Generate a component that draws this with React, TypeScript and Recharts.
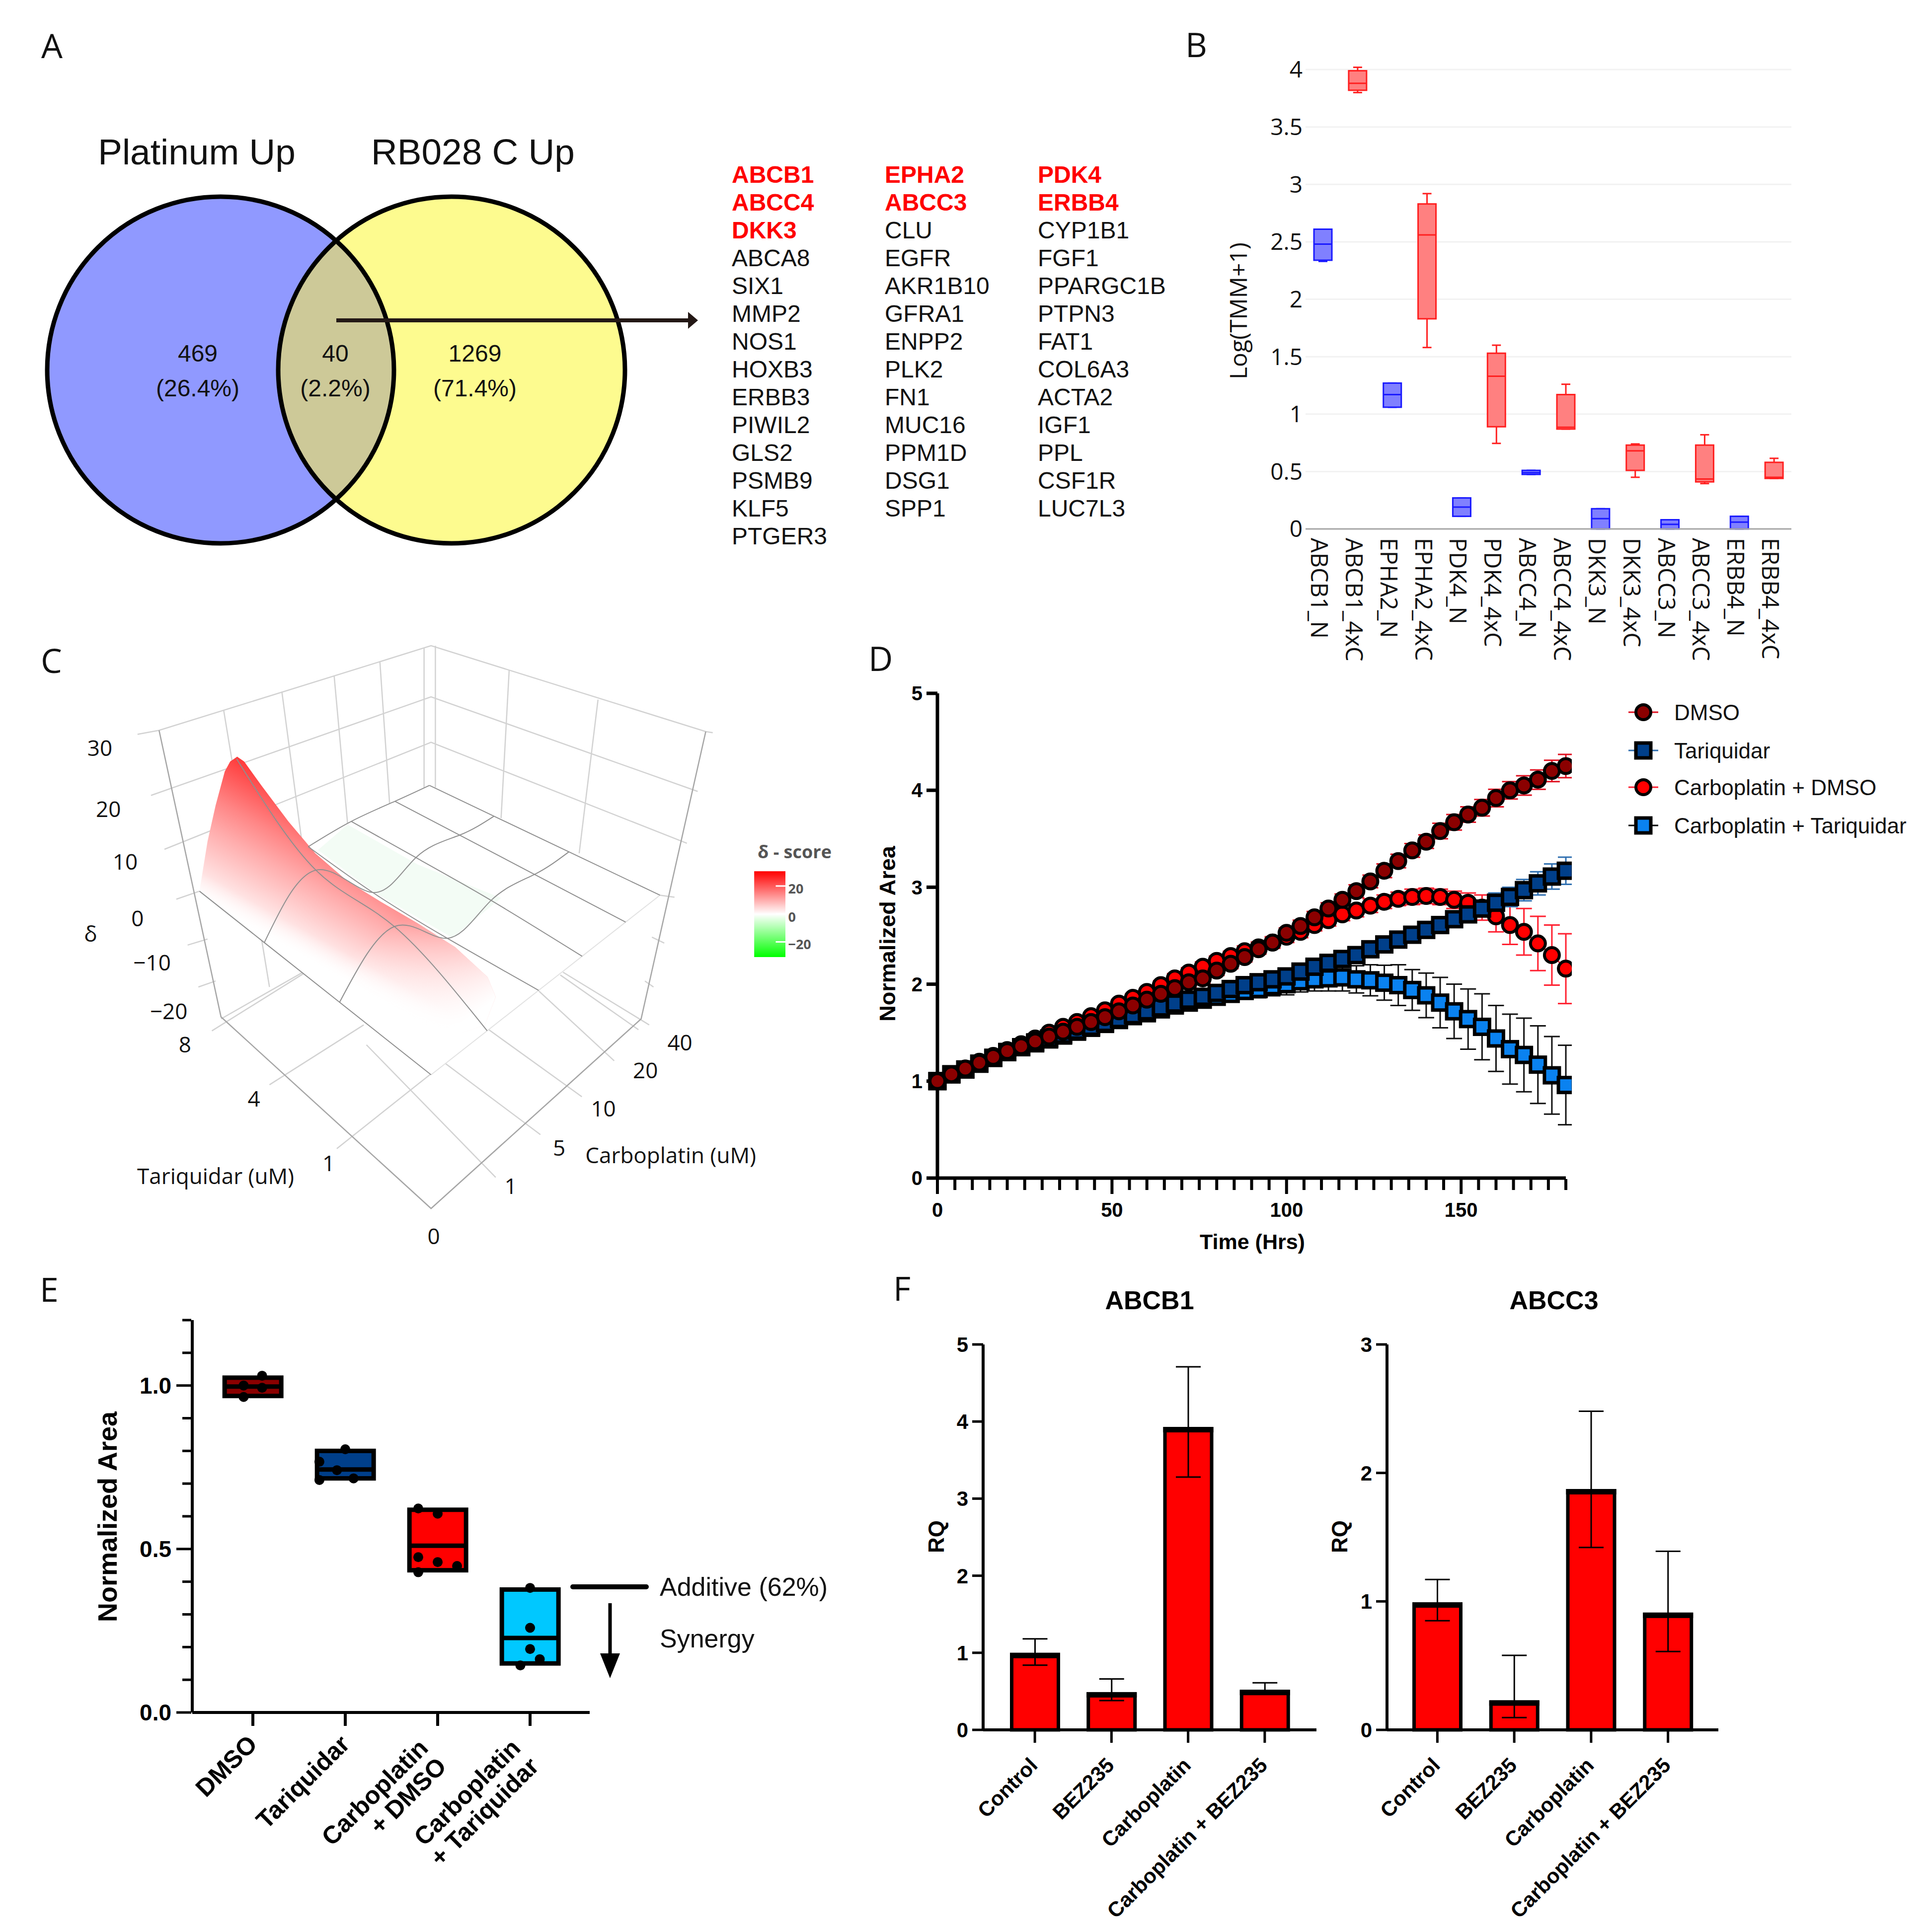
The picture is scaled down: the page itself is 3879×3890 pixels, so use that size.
import {
  Bar,
  CartesianGrid,
  ComposedChart,
  ErrorBar,
  Line,
  Scatter,
  ScatterChart,
  XAxis,
  YAxis,
} from "recharts";

const SANS = "'Liberation Sans', Arial, sans-serif";
const MYRIAD = "'Open Sans', sans-serif";

// Panel A
const geneColumnOne = ["ABCB1", "ABCC4", "DKK3", "ABCA8", "SIX1", "MMP2", "NOS1", "HOXB3", "ERBB3", "PIWIL2", "GLS2", "PSMB9", "KLF5", "PTGER3"];
const geneColumnTwo = ["EPHA2", "ABCC3", "CLU", "EGFR", "AKR1B10", "GFRA1", "ENPP2", "PLK2", "FN1", "MUC16", "PPM1D", "DSG1", "SPP1"];
const geneColumnThree = ["PDK4", "ERBB4", "CYP1B1", "FGF1", "PPARGC1B", "PTPN3", "FAT1", "COL6A3", "ACTA2", "IGF1", "PPL", "CSF1R", "LUC7L3"];
const highlightedGenes = ["ABCB1", "ABCC4", "DKK3", "EPHA2", "ABCC3", "PDK4", "ERBB4"];
const vennCounts = ["469", "40", "1269"];
const vennShares = ["(26.4%)", "(2.2%)", "(71.4%)"];
const vennLeftCenter = [{ x: 444, y: 745 }];
const vennRightCenter = [{ x: 909, y: 745 }];
const vennLensCenter = [{ x: 676.5, y: 745 }];

// Panel B
const tmmLabels = ["ABCB1_N", "ABCB1_4xC", "EPHA2_N", "EPHA2_4xC", "PDK4_N", "PDK4_4xC", "ABCC4_N", "ABCC4_4xC", "DKK3_N", "DKK3_4xC", "ABCC3_N", "ABCC3_4xC", "ERBB4_N", "ERBB4_4xC"];
const tmmMin = [2.33, 3.8, 1.06, 1.58, 0.11, 0.745, 0.475, 0.87, 0, 0.45, 0, 0.395, 0, 0.44];
const tmmQ1 = [2.34, 3.82, 1.06, 1.83, 0.11, 0.89, 0.475, 0.87, 0, 0.51, 0, 0.41, 0, 0.44];
const tmmMedian = [2.48, 3.88, 1.17, 2.56, 0.19, 1.33, 0.49, 0.885, 0.09, 0.68, 0.04, 0.435, 0.06, 0.45];
const tmmQ3 = [2.61, 3.99, 1.27, 2.83, 0.27, 1.53, 0.51, 1.17, 0.176, 0.73, 0.08, 0.73, 0.11, 0.58];
const tmmMax = [2.61, 4.02, 1.27, 2.92, 0.27, 1.6, 0.51, 1.26, 0.176, 0.74, 0.08, 0.82, 0.11, 0.615];
const tmmTicks = [0, 0.5, 1, 1.5, 2, 2.5, 3, 3.5, 4];

// Panel C: delta surface, rows are Tariquidar, columns are Carboplatin
const tariquidarDoses = [0, 1, 4, 8];
const carboplatinDoses = [0, 1, 5, 10, 20, 40];
const tariquidarFractions = [0, 0.395, 0.72, 1];
const carboplatinFractions = [0, 0.245, 0.47, 0.66, 0.85, 1];
const deltaRows = [
  [0, 0, 0, 0, 0, 0],
  [0, 7.5, -1.3, 0.5, 0, 0],
  [0, 8, -1.8, 0.3, 0, 0],
  [0, 20.5, -1, 0, 0, 0],
];
// outlines and cage of the 3D view, in the units of the view plane
const surfaceOutline = [[315, 665], [330, 540], [345, 450], [362, 365], [372, 340], [385, 328], [398, 340], [430, 400], [480, 490], [530, 570], [590, 640], [650, 690], [720, 745], [790, 805], [850, 880], [865, 930], [845, 1000], [760, 1040], [745, 1125], [575, 945], [435, 800], [315, 665]];
const valleyOutline = [[535, 562], [590, 498], [720, 598], [875, 682], [785, 782], [640, 668], [535, 562]];
const basePlane = [[315, 665], [742, 400], [1170, 675], [745, 1125], [315, 665]];
const wallLines = [
  [[200, 272], [240, 262], [745, 50], [1255, 265], [1268, 268]],
  [[225, 425], [745, 178], [1240, 415]],
  [[250, 560], [745, 292], [1220, 545]],
  [[272, 685], [315, 665]],
  [[1197, 680], [1170, 675]],
  [[293, 800], [330, 785]],
  [[313, 905], [345, 890]],
  [[1178, 795], [1155, 780]],
  [[1158, 905], [1142, 890]],
  [[360, 212], [445, 905]],
  [[468, 165], [505, 540]],
  [[565, 125], [590, 495]],
  [[650, 90], [668, 445]],
  [[890, 112], [875, 482]],
  [[1055, 185], [1020, 570]],
  [[732, 55], [732, 405]],
  [[753, 50], [753, 405]],
];
const floorLines = [
  [[338, 1015], [510, 870]],
  [[355, 985], [515, 862]],
  [[445, 1150], [620, 1000]],
  [[570, 1310], [850, 1010]],
  [[865, 1382], [625, 1050]],
  [[948, 1275], [770, 1095]],
  [[1025, 1180], [850, 1010]],
  [[1085, 1090], [945, 915]],
  [[1130, 1012], [985, 875]],
  [[1150, 1000], [990, 868]],
];
const cageAxes = [
  [[240, 262], [355, 980], [745, 1460], [1135, 985], [1255, 265]],
];

// Panel D
const hours = [
  0, 4, 8, 12, 16, 20, 24, 28, 32, 36,
  40, 44, 48, 52, 56, 60, 64, 68, 72, 76,
  80, 84, 88, 92, 96, 100, 104, 108, 112, 116,
  120, 124, 128, 132, 136, 140, 144, 148, 152, 156,
  160, 164, 168, 172, 176, 180,
];
const dmsoArea = [
  1.0, 1.07, 1.13, 1.19, 1.25, 1.31, 1.36, 1.41, 1.46, 1.51,
  1.56, 1.61, 1.66, 1.72, 1.78, 1.84, 1.9, 1.96, 2.02, 2.06,
  2.14, 2.21, 2.28, 2.36, 2.43, 2.53, 2.6, 2.69, 2.78, 2.87,
  2.96, 3.06, 3.17, 3.27, 3.38, 3.47, 3.58, 3.67, 3.75, 3.82,
  3.92, 4.0, 4.05, 4.11, 4.2, 4.25,
];
const dmsoErr = [
  0, 0.01, 0.01, 0.015, 0.02, 0.02, 0.02, 0.025, 0.03, 0.03,
  0.03, 0.03, 0.035, 0.04, 0.04, 0.04, 0.04, 0.045, 0.05, 0.05,
  0.05, 0.05, 0.05, 0.05, 0.05, 0.05, 0.06, 0.06, 0.06, 0.06,
  0.065, 0.065, 0.07, 0.07, 0.07, 0.07, 0.08, 0.08, 0.08, 0.085,
  0.09, 0.09, 0.1, 0.1, 0.11, 0.12,
];
const tariquidarArea = [
  1.0, 1.07, 1.12, 1.18, 1.24, 1.3, 1.35, 1.4, 1.44, 1.48,
  1.52, 1.56, 1.6, 1.64, 1.68, 1.72, 1.76, 1.8, 1.84, 1.87,
  1.91, 1.95, 1.99, 2.02, 2.05, 2.08, 2.13, 2.18, 2.22, 2.26,
  2.3, 2.36, 2.41, 2.46, 2.51, 2.56, 2.61, 2.67, 2.72, 2.78,
  2.84, 2.9, 2.97, 3.04, 3.11, 3.17,
];
const tariquidarErr = [
  0, 0.01, 0.01, 0.015, 0.02, 0.02, 0.02, 0.02, 0.025, 0.025,
  0.03, 0.03, 0.03, 0.03, 0.03, 0.03, 0.03, 0.03, 0.03, 0.03,
  0.03, 0.03, 0.03, 0.03, 0.03, 0.03, 0.03, 0.035, 0.035, 0.035,
  0.04, 0.04, 0.04, 0.04, 0.04, 0.04, 0.05, 0.05, 0.07, 0.08,
  0.1, 0.1, 0.11, 0.12, 0.13, 0.14,
];
const carboDmsoArea = [
  1.0, 1.07, 1.13, 1.2, 1.26, 1.32, 1.38, 1.44, 1.5, 1.56,
  1.61, 1.67, 1.73, 1.8, 1.86, 1.92, 1.99, 2.06, 2.12, 2.18,
  2.24, 2.29, 2.34, 2.38, 2.43, 2.49, 2.54, 2.61, 2.66, 2.72,
  2.76, 2.81, 2.85, 2.88, 2.9, 2.91, 2.9, 2.87, 2.84, 2.79,
  2.7, 2.61, 2.54, 2.42, 2.3, 2.16,
];
const carboDmsoErr = [
  0, 0.01, 0.01, 0.015, 0.02, 0.02, 0.02, 0.025, 0.03, 0.03,
  0.03, 0.03, 0.035, 0.04, 0.04, 0.04, 0.045, 0.05, 0.05, 0.05,
  0.05, 0.05, 0.055, 0.055, 0.06, 0.06, 0.06, 0.06, 0.06, 0.065,
  0.065, 0.07, 0.07, 0.07, 0.08, 0.08, 0.08, 0.09, 0.1, 0.13,
  0.16, 0.2, 0.24, 0.28, 0.31, 0.36,
];
const carboTariArea = [
  1.0, 1.07, 1.12, 1.18, 1.24, 1.3, 1.35, 1.39, 1.43, 1.47,
  1.51, 1.55, 1.59, 1.63, 1.67, 1.7, 1.74, 1.78, 1.81, 1.84,
  1.87, 1.9, 1.93, 1.95, 1.98, 2.0, 2.03, 2.05, 2.06, 2.07,
  2.05, 2.04, 2.015, 1.99, 1.94, 1.885, 1.81, 1.72, 1.64, 1.56,
  1.44, 1.33, 1.27, 1.17, 1.06, 0.96,
];
const carboTariErr = [
  0, 0.01, 0.01, 0.015, 0.02, 0.02, 0.02, 0.02, 0.025, 0.025,
  0.03, 0.03, 0.03, 0.03, 0.03, 0.035, 0.035, 0.04, 0.04, 0.04,
  0.05, 0.06, 0.08, 0.09, 0.1, 0.11, 0.11, 0.12, 0.13, 0.14,
  0.14, 0.16, 0.18, 0.21, 0.21, 0.23, 0.26, 0.28, 0.31, 0.34,
  0.34, 0.36, 0.38, 0.4, 0.4, 0.41,
];
const hourTicks = [
  0, 5, 10, 15, 20, 25, 30, 35, 40, 45, 50, 55, 60, 65, 70, 75, 80, 85, 90,
  95, 100, 105, 110, 115, 120, 125, 130, 135, 140, 145, 150, 155, 160, 165,
  170, 175, 180,
];

// Panel E
const endpointPositions = [1, 2, 3, 4];
const endpointTop = [1.024, 0.8, 0.62, 0.376];
const endpointMedian = [0.997, 0.743, 0.51, 0.228];
const endpointBottom = [0.968, 0.716, 0.435, 0.15];
const endpointDotX = [0.9, 1.1, 1.1, 0.9, 2, 1.72, 1.91, 1.72, 2.09, 2.79, 3, 2.79, 3, 3.21, 2.79, 4, 4, 4, 4.105, 3.895];
const endpointDotY = [0.965, 1.03, 0.993, 1.0, 0.805, 0.767, 0.741, 0.711, 0.716, 0.624, 0.608, 0.475, 0.46, 0.448, 0.429, 0.381, 0.259, 0.194, 0.163, 0.144];
const endpointTicks = [0, 0.1, 0.2, 0.3, 0.4, 0.5, 0.6, 0.7, 0.8, 0.9, 1, 1.1, 1.2];

// Panel F
const rqLabels = ["Control", "BEZ235", "Carboplatin", "Carboplatin + BEZ235"];
const abcb1Rq = [1.0, 0.49, 3.93, 0.52];
const abcb1Low = [0.84, 0.38, 3.28, 0.46];
const abcb1High = [1.18, 0.66, 4.71, 0.61];
const abcc3Rq = [0.993, 0.23, 1.875, 0.913];
const abcc3Low = [0.85, 0.096, 1.42, 0.61];
const abcc3High = [1.17, 0.58, 2.48, 1.39];

const tmmRows = tmmLabels.map((name, i) => ({
  name,
  range: [tmmMin[i], tmmMax[i]],
  min: tmmMin[i],
  q1: tmmQ1[i],
  median: tmmMedian[i],
  q3: tmmQ3[i],
  max: tmmMax[i],
  isNormal: name.endsWith("_N"),
}));

const growthRows = hours.map((hour, i) => ({
  hour,
  dmso: dmsoArea[i],
  dmsoErr: dmsoErr[i],
  tariquidar: tariquidarArea[i],
  tariquidarErr: tariquidarErr[i],
  carboDmso: carboDmsoArea[i],
  carboDmsoErr: carboDmsoErr[i],
  carboTari: carboTariArea[i],
  carboTariErr: carboTariErr[i],
}));

const endpointColors = ["#8b0000", "#003f8a", "#ff0000", "#00c8ff"];
const endpointLabelLines = [["DMSO"], ["Tariquidar"], ["Carboplatin", "+ DMSO"], ["Carboplatin", "+ Tariquidar"]];
const endpointRows = endpointPositions.map((x, i) => ({
  x,
  range: [endpointBottom[i], endpointTop[i]],
  top: endpointTop[i],
  median: endpointMedian[i],
  bottom: endpointBottom[i],
  color: endpointColors[i],
}));
const endpointDots = endpointDotX.map((x, i) => ({ x, y: endpointDotY[i] }));

const rqRows = (values: number[], low: number[], high: number[]) =>
  rqLabels.map((name, i) => ({
    name,
    value: values[i],
    err: [values[i] - low[i], high[i] - values[i]],
  }));

// projects one surface node on the view plane
const projectNode = (u: number, v: number, delta: number) => {
  const x = (1 - u) * (1 - v) * 745 + u * (1 - v) * 315 + (1 - u) * v * 1170 + u * v * 742;
  const y = (1 - u) * (1 - v) * 1125 + u * (1 - v) * 665 + (1 - u) * v * 675 + u * v * 400;
  const lift = delta * 13;
  return { x: x + ((x - 745) / 390) * 0.16 * lift, y: y - lift };
};
const toPoints = (pairs: number[][]) => pairs.map(([x, y]) => ({ x, y }));
const tariquidarMesh = tariquidarDoses.map((_, t) =>
  carboplatinDoses
    .map((__, c) => projectNode(tariquidarFractions[t], carboplatinFractions[c], deltaRows[t][c]))
    // the far edge only shows behind the peak
    .slice(t === tariquidarDoses.length - 1 ? 2 : 0),
);
const carboplatinMesh = carboplatinDoses.map((_, c) =>
  tariquidarDoses.map((__, t) => projectNode(tariquidarFractions[t], carboplatinFractions[c], deltaRows[t][c])),
);

const NoMark = () => <g />;

function WhiskerBox({ x, y, width, height, payload }: any) {
  const perUnit = height / (payload.max - payload.min);
  const py = (v: number) => y + (payload.max - v) * perUnit;
  const stroke = payload.isNormal ? "#1a1aff" : "#ff2020";
  const fill = payload.isNormal ? "#8080ff" : "#ff8080";
  const cx = x + width / 2;
  return (
    <g stroke={stroke} strokeWidth={3}>
      <line x1={cx} x2={cx} y1={py(payload.max)} y2={py(payload.min)} />
      <line x1={cx - 9} x2={cx + 9} y1={py(payload.max)} y2={py(payload.max)} />
      <line x1={cx - 9} x2={cx + 9} y1={py(payload.min)} y2={py(payload.min)} />
      <rect x={x} y={py(payload.q3)} width={width} height={Math.max(py(payload.q1) - py(payload.q3), 3)} fill={fill} />
      <line x1={x} x2={x + width} y1={py(payload.median)} y2={py(payload.median)} />
    </g>
  );
}

function EndpointBox({ x, y, width, height, payload }: any) {
  const perUnit = height / (payload.top - payload.bottom);
  const my = y + (payload.top - payload.median) * perUnit;
  const cx = x + width / 2;
  return (
    <g stroke="#000" strokeWidth={9}>
      <rect x={cx - 57} y={y} width={114} height={height} fill={payload.color} />
      <line x1={cx - 60} x2={cx + 60} y1={my} y2={my} />
    </g>
  );
}

// the border sits inside the bar, with a heavier top edge
function RqBar({ x, y, width, height }: any) {
  return (
    <g>
      <rect x={x + 3.5} y={y + 3.5} width={width - 7} height={height - 3.5} fill="#ff0000" stroke="#000" strokeWidth={7} />
      <rect x={x} y={y} width={width} height={11} fill="#000" />
    </g>
  );
}

function TmmTick({ x, y, payload }: any) {
  return (
    <text transform={`translate(${x - 24},${y + 10}) rotate(90)`} fontFamily={MYRIAD} fontSize={47} fill="#111">
      {payload.value}
    </text>
  );
}

function HourTick({ x, y, payload }: any) {
  const major = payload.value % 50 === 0;
  return (
    <g>
      <line x1={x} x2={x} y1={y} y2={y + (major ? 30 : 22)} stroke="#000" strokeWidth={6} />
      {major && (
        <text x={x} y={y + 76} textAnchor="middle" fontFamily={SANS} fontWeight={700} fontSize={40} fill="#000">
          {payload.value}
        </text>
      )}
    </g>
  );
}

function EndpointYTick({ x, y, payload }: any) {
  const major = Math.round(payload.value * 10) % 5 === 0;
  return (
    <g>
      <line x1={x - (major ? 30 : 18)} x2={x} y1={y} y2={y} stroke="#000" strokeWidth={5} />
      {major && (
        <text x={x - 40} y={y + 16} textAnchor="end" fontFamily={SANS} fontWeight={700} fontSize={46} fill="#000">
          {payload.value.toFixed(1)}
        </text>
      )}
    </g>
  );
}

function EndpointXTick({ x, y, payload }: any) {
  const lines = endpointLabelLines[endpointPositions.indexOf(payload.value)] || [];
  const stacked = lines.length > 1;
  return (
    <g transform={`translate(${x + (stacked ? -22 : 6)},${y + (stacked ? 40 : 32)}) rotate(-45)`}>
      {lines.map((line, i) => (
        <text key={line} x={0} y={i * 52 + 8} textAnchor="end" fontFamily={SANS} fontWeight={700} fontSize={50} fill="#000">
          {line}
        </text>
      ))}
    </g>
  );
}

function RqTick({ x, y, payload }: any) {
  return (
    <text
      transform={`translate(${x + 8},${y + 46}) rotate(-45)`}
      textAnchor="end"
      fontFamily={SANS}
      fontWeight={700}
      fontSize={42}
      fill="#000"
    >
      {payload.value}
    </text>
  );
}

const circleDot = (fill: string) => ({ cx, cy, index }: any) => (
  <circle key={index} cx={cx} cy={cy} r={15} fill={fill} stroke="#000" strokeWidth={6} />
);
const squareDot = (fill: string) => ({ cx, cy, index }: any) => (
  <rect key={index} x={cx - 15} y={cy - 15} width={30} height={30} fill={fill} stroke="#000" strokeWidth={7} />
);

function RqChart({ left, width, rows, top, ticks, pad }: any) {
  return (
    <div style={{ position: "absolute", left: left - 100, top: 2677 }}>
      <ComposedChart width={width + 100} height={1200} data={rows} margin={{ top: 30, right: 0, bottom: 0, left: 0 }}>
        <XAxis
          dataKey="name"
          interval={0}
          height={1200 - 30 - 776}
          padding={{ left: pad, right: pad }}
          axisLine={{ stroke: "#000", strokeWidth: 6 }}
          tickLine={{ stroke: "#000", strokeWidth: 5 }}
          tickSize={26}
          tick={<RqTick />}
        />
        <YAxis
          width={100}
          domain={[0, top]}
          ticks={ticks}
          axisLine={{ stroke: "#000", strokeWidth: 6 }}
          tickLine={{ stroke: "#000", strokeWidth: 5 }}
          tickSize={22}
          tickMargin={8}
          tick={{ fontFamily: SANS, fontWeight: 700, fontSize: 42, fill: "#000" }}
        />
        <Bar dataKey="value" barSize={101} shape={<RqBar />} isAnimationActive={false}>
          <ErrorBar dataKey="err" direction="y" width={25} stroke="#000" strokeWidth={3} />
        </Bar>
      </ComposedChart>
    </div>
  );
}

function GeneColumn({ genes, x }: { genes: string[]; x: number }) {
  return (
    <>
      {genes.map((gene, i) => {
        const red = highlightedGenes.includes(gene);
        return (
          <text
            key={gene}
            x={x}
            y={368 + i * 56}
            fontFamily={SANS}
            fontSize={48}
            fontWeight={red ? 700 : 400}
            fill={red ? "#ff0000" : "#111"}
          >
            {gene}
          </text>
        );
      })}
    </>
  );
}

const zx = (u: number) => 60 + u / 0.9224;
const zy = (v: number) => 1260 + v / 1.2444;

function ViewLabel({ u, v, children, size = 44, weight = 400, fill = "#111", anchor = "middle" }: any) {
  return (
    <text
      x={zx(u)}
      y={zy(v)}
      textAnchor={anchor}
      dominantBaseline="central"
      fontFamily={MYRIAD}
      fontSize={size}
      fontWeight={weight}
      fill={fill}
    >
      {children}
    </text>
  );
}

function VennLens({ cx, cy }: any) {
  const h = 260;
  return <path d={`M${cx},${cy - h}A349,349 0 0 1 ${cx},${cy + h}A349,349 0 0 1 ${cx},${cy - h}Z`} fill="#cdc998" />;
}

const vennDisc = (fill: string, stroke: string) => ({ cx, cy }: any) => (
  <circle cx={cx} cy={cy} r={349} fill={fill} stroke={stroke} strokeWidth={fill === "none" ? 9 : 0} />
);

export default function App() {
  return (
    <div style={{ position: "absolute", left: 0, top: 0, width: 3879, height: 3890, background: "#fff", overflow: "hidden" }}>
      {/* A */}
      <div style={{ position: "absolute", left: 0, top: 0 }}>
        <ScatterChart width={1300} height={1150} margin={{ top: 0, right: 0, bottom: 0, left: 0 }}>
          <XAxis type="number" dataKey="x" domain={[0, 1300]} hide />
          <YAxis type="number" dataKey="y" domain={[0, 1150]} reversed hide />
          <Scatter data={vennLeftCenter} shape={vennDisc("#9099ff", "none")} isAnimationActive={false} />
          <Scatter data={vennRightCenter} shape={vennDisc("#fdfb8f", "none")} isAnimationActive={false} />
          <Scatter data={vennLensCenter} shape={<VennLens />} isAnimationActive={false} />
          <Scatter data={vennLeftCenter} shape={vennDisc("none", "#000")} isAnimationActive={false} />
          <Scatter data={vennRightCenter} shape={vennDisc("none", "#000")} isAnimationActive={false} />
        </ScatterChart>
      </div>

      {/* B */}
      <div style={{ position: "absolute", left: 2528, top: 80 }}>
        <ComposedChart width={1080} height={1285} data={tmmRows} margin={{ top: 37, right: 2, bottom: 0, left: 0 }}>
          <CartesianGrid vertical={false} stroke="#f2f2f2" strokeWidth={3} syncWithTicks />
          <XAxis
            dataKey="name"
            interval={0}
            height={300}
            axisLine={{ stroke: "#a8a8a8", strokeWidth: 3 }}
            tickLine={false}
            tick={<TmmTick />}
          />
          <YAxis
            width={100}
            domain={[0, 4.1]}
            ticks={tmmTicks}
            axisLine={false}
            tickLine={false}
            tickMargin={0}
            tick={{ fontFamily: MYRIAD, fontSize: 46, fill: "#111" }}
          />
          <Bar dataKey="range" barSize={36} shape={<WhiskerBox />} isAnimationActive={false} />
        </ComposedChart>
      </div>

      {/* C */}
      <div style={{ position: "absolute", left: 60, top: 1260 }}>
        <ScatterChart width={1700} height={1260} margin={{ top: 0, right: 0, bottom: 0, left: 0 }}>
          <defs>
            <linearGradient
              id="surfaceFill"
              gradientUnits="userSpaceOnUse"
              gradientTransform="scale(1.0842,0.8036)"
              x1={303}
              y1={681}
              x2={501}
              y2={417}
            >
              <stop offset={0} stopColor="#ffffff" stopOpacity={0} />
              <stop offset={0.18} stopColor="#ffe2e2" />
              <stop offset={0.48} stopColor="#ffacac" />
              <stop offset={0.67} stopColor="#ff8686" />
              <stop offset={1} stopColor="#ff3a3a" />
            </linearGradient>
            <linearGradient
              id="surfaceTail"
              gradientUnits="userSpaceOnUse"
              gradientTransform="scale(1.0842,0.8036)"
              x1={640}
              y1={780}
              x2={830}
              y2={970}
            >
              <stop offset={0} stopColor="#ffffff" stopOpacity={0} />
              <stop offset={1} stopColor="#ffffff" stopOpacity={1} />
            </linearGradient>
          </defs>
          <XAxis type="number" dataKey="x" domain={[0, 1568]} hide />
          <YAxis type="number" dataKey="y" domain={[0, 1568]} reversed hide />
          {wallLines.map((line, i) => (
            <Scatter key={`wall${i}`} data={toPoints(line)} shape={<NoMark />} line={{ stroke: "#d2d2d2", strokeWidth: 2.5, fill: "none" }} lineJointType="linear" isAnimationActive={false} />
          ))}
          {floorLines.map((line, i) => (
            <Scatter key={`floor${i}`} data={toPoints(line)} shape={<NoMark />} line={{ stroke: "#d2d2d2", strokeWidth: 2.5, fill: "none" }} lineJointType="linear" isAnimationActive={false} />
          ))}
          {cageAxes.map((line, i) => (
            <Scatter key={`cage${i}`} data={toPoints(line)} shape={<NoMark />} line={{ stroke: "#a6a6a6", strokeWidth: 2.5, fill: "none" }} lineJointType="linear" isAnimationActive={false} />
          ))}
          <Scatter data={toPoints(basePlane)} shape={<NoMark />} line={{ stroke: "none", fill: "#ffffff" }} lineJointType="linear" isAnimationActive={false} />
          <Scatter data={toPoints(valleyOutline)} shape={<NoMark />} line={{ stroke: "none", fill: "#f3fcf5" }} lineJointType="linear" isAnimationActive={false} />
          <Scatter data={toPoints(surfaceOutline)} shape={<NoMark />} line={{ stroke: "none", fill: "url(#surfaceFill)" }} lineJointType="linear" isAnimationActive={false} />
          <Scatter data={toPoints(surfaceOutline)} shape={<NoMark />} line={{ stroke: "none", fill: "url(#surfaceTail)" }} lineJointType="linear" isAnimationActive={false} />
          {tariquidarMesh.map((points, i) => (
            <Scatter key={`t${i}`} data={points} shape={<NoMark />} line={{ stroke: i === 0 ? "#e2e2e2" : "#8f8f8f", strokeWidth: 2, fill: "none" }} lineJointType="natural" isAnimationActive={false} />
          ))}
          {carboplatinMesh.map((points, i) => (
            <Scatter key={`c${i}`} data={points} shape={<NoMark />} line={{ stroke: "#8f8f8f", strokeWidth: 2, fill: "none" }} lineJointType="natural" isAnimationActive={false} />
          ))}
        </ScatterChart>
      </div>

      {/* D */}
      <div style={{ position: "absolute", left: 1767, top: 1356 }}>
        <ComposedChart width={1397} height={1150} data={growthRows} margin={{ top: 40, right: 12, bottom: 0, left: 0 }}>
          <XAxis
            type="number"
            dataKey="hour"
            domain={[0, 180]}
            ticks={hourTicks}
            interval={0}
            height={1150 - 40 - 976}
            axisLine={{ stroke: "#000", strokeWidth: 7 }}
            tickLine={false}
            tickSize={0}
            tick={<HourTick />}
          />
          <YAxis
            width={120}
            domain={[0, 5]}
            ticks={[0, 1, 2, 3, 4, 5]}
            axisLine={{ stroke: "#000", strokeWidth: 7 }}
            tickLine={{ stroke: "#000", strokeWidth: 7 }}
            tickSize={22}
            tickMargin={8}
            tick={{ fontFamily: SANS, fontWeight: 700, fontSize: 40, fill: "#000" }}
          />
          <Line dataKey="carboTari" stroke="#000" strokeWidth={3} dot={squareDot("#0a82f0")} isAnimationActive={false}>
            <ErrorBar dataKey="carboTariErr" direction="y" width={16} stroke="#111" strokeWidth={3} />
          </Line>
          <Line dataKey="carboDmso" stroke="#ff2030" strokeWidth={3} dot={circleDot("#ff0000")} isAnimationActive={false}>
            <ErrorBar dataKey="carboDmsoErr" direction="y" width={16} stroke="#ff2030" strokeWidth={3} />
          </Line>
          <Line dataKey="tariquidar" stroke="#2f6fb0" strokeWidth={3} dot={squareDot("#003f8a")} isAnimationActive={false}>
            <ErrorBar dataKey="tariquidarErr" direction="y" width={16} stroke="#2f6fb0" strokeWidth={3} />
          </Line>
          <Line dataKey="dmso" stroke="#e01020" strokeWidth={3} dot={circleDot("#8b0000")} isAnimationActive={false}>
            <ErrorBar dataKey="dmsoErr" direction="y" width={16} stroke="#e01020" strokeWidth={3} />
          </Line>
        </ComposedChart>
      </div>

      {/* E */}
      <div style={{ position: "absolute", left: 217, top: 2628 }}>
        <ComposedChart width={970} height={1260} data={endpointRows} margin={{ top: 30, right: 0, bottom: 0, left: 0 }}>
          <XAxis
            type="number"
            dataKey="x"
            domain={[0.344, 4.645]}
            ticks={endpointPositions}
            interval={0}
            height={1260 - 30 - 790}
            axisLine={{ stroke: "#000", strokeWidth: 6 }}
            tickLine={{ stroke: "#000", strokeWidth: 6 }}
            tickSize={27}
            tick={<EndpointXTick />}
          />
          <YAxis
            width={170}
            domain={[0, 1.2]}
            ticks={endpointTicks}
            interval={0}
            axisLine={{ stroke: "#000", strokeWidth: 6 }}
            tickLine={false}
            tickSize={0}
            tick={<EndpointYTick />}
          />
          <Bar dataKey="range" barSize={122} shape={<EndpointBox />} isAnimationActive={false} />
          <Scatter data={endpointDots} dataKey="y" fill="#000" shape={({ cx, cy }: any) => <circle cx={cx} cy={cy} r={10} fill="#000" />} isAnimationActive={false} />
        </ComposedChart>
      </div>

      {/* F */}
      <RqChart left={1979} width={671} rows={rqRows(abcb1Rq, abcb1Low, abcb1High)} top={5} ticks={[0, 1, 2, 3, 4, 5]} pad={27} />
      <RqChart left={2792} width={667} rows={rqRows(abcc3Rq, abcc3Low, abcc3High)} top={3} ticks={[0, 1, 2, 3]} pad={24} />

      {/* labels and annotations */}
      <svg width={3879} height={3890} style={{ position: "absolute", left: 0, top: 0, pointerEvents: "none" }}>
        <defs>
          <linearGradient id="scoreBar" x1={0} y1={0} x2={0} y2={1}>
            <stop offset={0} stopColor="#ff0000" />
            <stop offset={0.5} stopColor="#ffffff" />
            <stop offset={1} stopColor="#00ff00" />
          </linearGradient>
        </defs>
        <g fontFamily={MYRIAD} fontSize={68} fill="#111">
          <text x={83} y={117}>A</text>
          <text x={2386} y={115}>B</text>
          <text x={82} y={1355}>C</text>
          <text x={1748} y={1351}>D</text>
          <text x={80} y={2621}>E</text>
          <text x={1798} y={2619}>F</text>
        </g>

        {/* A */}
        <g fontFamily={SANS} fontSize={73} fill="#111" textAnchor="middle">
          <text x={396} y={331}>Platinum Up</text>
          <text x={952} y={331}>RB028 C Up</text>
        </g>
        <g fontFamily={SANS} fontSize={48} fill="#111" textAnchor="middle">
          {vennCounts.map((count, i) => (
            <text key={count} x={[398, 675, 956][i]} y={728}>{count}</text>
          ))}
          {vennShares.map((share, i) => (
            <text key={share} x={[398, 675, 956][i]} y={798}>{share}</text>
          ))}
        </g>
        <line x1={677} x2={1390} y1={645} y2={645} stroke="#231815" strokeWidth={8} />
        <polygon points="1385,628 1405,645 1385,662" fill="#231815" />
        <GeneColumn genes={geneColumnOne} x={1473} />
        <GeneColumn genes={geneColumnTwo} x={1781} />
        <GeneColumn genes={geneColumnThree} x={2089} />

        {/* B */}
        <text transform="translate(2510,626) rotate(-90)" textAnchor="middle" fontFamily={MYRIAD} fontSize={48} fill="#111">
          Log(TMM+1)
        </text>

        {/* C */}
        <ViewLabel u={130} v={305}>30</ViewLabel>
        <ViewLabel u={146} v={458}>20</ViewLabel>
        <ViewLabel u={177} v={590}>10</ViewLabel>
        <ViewLabel u={200} v={732}>0</ViewLabel>
        <ViewLabel u={227} v={843}>−10</ViewLabel>
        <ViewLabel u={258} v={965}>−20</ViewLabel>
        <ViewLabel u={113} v={770}>δ</ViewLabel>
        <ViewLabel u={288} v={1048}>8</ViewLabel>
        <ViewLabel u={416} v={1183}>4</ViewLabel>
        <ViewLabel u={555} v={1345}>1</ViewLabel>
        <ViewLabel u={750} v={1528}>0</ViewLabel>
        <ViewLabel u={893} v={1402}>1</ViewLabel>
        <ViewLabel u={983} v={1307}>5</ViewLabel>
        <ViewLabel u={1065} v={1208}>10</ViewLabel>
        <ViewLabel u={1143} v={1112}>20</ViewLabel>
        <ViewLabel u={1207} v={1043}>40</ViewLabel>
        <ViewLabel u={345} v={1378}>Tariquidar (uM)</ViewLabel>
        <ViewLabel u={1190} v={1325}>Carboplatin (uM)</ViewLabel>
        <ViewLabel u={1420} v={565} size={36} weight={700} fill="#555">δ - score</ViewLabel>
        <rect x={zx(1345)} y={zy(615)} width={58 / 0.9224} height={215 / 1.2444} fill="url(#scoreBar)" />
        {[652, 722, 792].map((v) => (
          <line key={v} x1={zx(1385)} x2={zx(1403)} y1={zy(v)} y2={zy(v)} stroke="#fff" strokeWidth={3} />
        ))}
        <ViewLabel u={1408} v={658} size={27} weight={700} fill="#555" anchor="start">20</ViewLabel>
        <ViewLabel u={1408} v={728} size={27} weight={700} fill="#555" anchor="start">0</ViewLabel>
        <ViewLabel u={1408} v={797} size={27} weight={700} fill="#555" anchor="start">−20</ViewLabel>

        {/* D */}
        <text transform="translate(1802,1880) rotate(-90)" textAnchor="middle" fontFamily={SANS} fontWeight={700} fontSize={45} fill="#000">
          Normalized Area
        </text>
        <text x={2521} y={2515} textAnchor="middle" fontFamily={SANS} fontWeight={700} fontSize={43} fill="#000">
          Time (Hrs)
        </text>
        <g fontFamily={SANS} fontSize={44} fill="#111" dominantBaseline="central">
          <text x={3370} y={1434}>DMSO</text>
          <text x={3370} y={1511}>Tariquidar</text>
          <text x={3370} y={1585}>Carboplatin + DMSO</text>
          <text x={3370} y={1662}>Carboplatin + Tariquidar</text>
        </g>
        <line x1={3278} x2={3338} y1={1434} y2={1434} stroke="#e01020" strokeWidth={3} />
        <circle cx={3308} cy={1434} r={15} fill="#8b0000" stroke="#000" strokeWidth={6} />
        <line x1={3278} x2={3338} y1={1511} y2={1511} stroke="#2f6fb0" strokeWidth={3} />
        <rect x={3293} y={1496} width={30} height={30} fill="#003f8a" stroke="#000" strokeWidth={7} />
        <line x1={3278} x2={3338} y1={1585} y2={1585} stroke="#ff2030" strokeWidth={3} />
        <circle cx={3308} cy={1585} r={15} fill="#ff0000" stroke="#000" strokeWidth={6} />
        <line x1={3278} x2={3338} y1={1662} y2={1662} stroke="#000" strokeWidth={3} />
        <rect x={3293} y={1647} width={30} height={30} fill="#0a82f0" stroke="#000" strokeWidth={7} />

        {/* E */}
        <text transform="translate(235,3054) rotate(-90)" textAnchor="middle" fontFamily={SANS} fontWeight={700} fontSize={54} fill="#000">
          Normalized Area
        </text>
        <line x1={1153} x2={1301} y1={3195} y2={3195} stroke="#000" strokeWidth={10} strokeLinecap="round" />
        <line x1={1228} x2={1228} y1={3228} y2={3335} stroke="#000" strokeWidth={7} />
        <polygon points="1208,3329 1248,3329 1228,3379" fill="#000" />
        <g fontFamily={SANS} fontSize={52} fill="#111" dominantBaseline="central">
          <text x={1328} y={3195}>Additive (62%)</text>
          <text x={1328} y={3299}>Synergy</text>
        </g>

        {/* F */}
        <g fontFamily={SANS} fontWeight={700} fontSize={52} fill="#000" textAnchor="middle">
          <text x={2314} y={2636}>ABCB1</text>
          <text x={3128} y={2636}>ABCC3</text>
        </g>
        <g fontFamily={SANS} fontWeight={700} fontSize={44} fill="#000" textAnchor="middle">
          <text transform="translate(1900,3094) rotate(-90)">RQ</text>
          <text transform="translate(2712,3094) rotate(-90)">RQ</text>
        </g>
      </svg>
    </div>
  );
}
